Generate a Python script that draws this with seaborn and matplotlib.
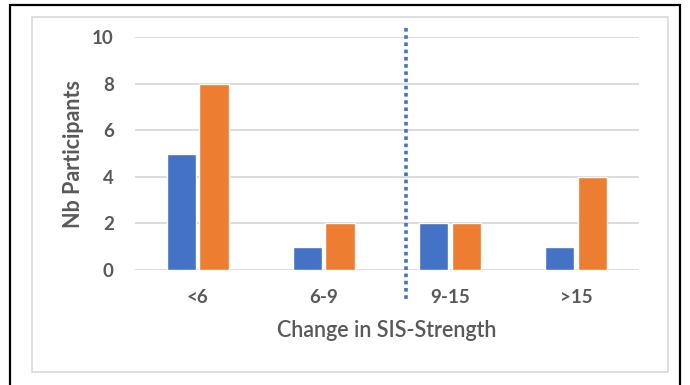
import matplotlib
matplotlib.use("Agg")
import matplotlib.pyplot as plt
from matplotlib.patches import Rectangle
import seaborn as sns
import pandas as pd

# Participant counts per SIS-Strength change band, two groups
categories = ["<6", "6-9", "9-15", ">15"]
group_a = [5, 1, 2, 1]
group_b = [8, 2, 2, 4]
group_names = ["Group A", "Group B"]
y_ticks = [0, 2, 4, 6, 8, 10]
divider_x = 1.65

df = pd.DataFrame({
    "category": categories * 2,
    "count": group_a + group_b,
    "group": [group_names[0]] * len(categories) + [group_names[1]] * len(categories),
})

sns.set_theme(style="white")
plt.rcParams["font.family"] = ["Lato", "DejaVu Sans"]

fig = plt.figure(figsize=(6.9, 3.85), dpi=100)
W, H = 690, 385

# outer black frame and inner light chart-area frame
fig.add_artist(Rectangle((10 / W, -0.1), 670 / W, 1 - 5 / H + 0.1,
                         transform=fig.transFigure, fill=False,
                         edgecolor="black", linewidth=1.6))
fig.add_artist(Rectangle((32 / W, 1 - 372 / H), 636 / W, 355 / H,
                         transform=fig.transFigure, fill=False,
                         edgecolor="#D9D9D9", linewidth=1.2))

ax = fig.add_axes([134.5 / W, 1 - 270 / H, 504.5 / W, 233 / H])
sns.barplot(data=df, x="category", y="count", hue="group", order=categories,
            hue_order=group_names, palette=["#4472C4", "#ED7D31"],
            width=0.52, gap=0.11, ax=ax, legend=False, saturation=1)

ax.set_ylim(0, 10)
ax.set_xlim(-0.5, len(categories) - 0.5)
ax.set_yticks(y_ticks)
ax.yaxis.grid(True, color="#D9D9D9", linewidth=1.3)
ax.set_axisbelow(True)
for s in ax.spines.values():
    s.set_visible(False)
ax.tick_params(axis="both", length=0, labelsize=13.5, labelcolor="#595959")
ax.tick_params(axis="x", pad=14)
ax.tick_params(axis="y", pad=15)
for lbl in ax.get_xticklabels() + ax.get_yticklabels():
    lbl.set_fontweight("bold")

ax.set_xlabel("Change in SIS-Strength", fontsize=15.5, color="#595959",
              fontweight="semibold", labelpad=10)
ax.set_ylabel("Nb Participants", fontsize=15.5, color="#595959",
              fontweight="bold", labelpad=6)

# dotted divider between the lower and higher change bands
ax.plot([divider_x, divider_x], [1.04, -0.13], transform=ax.get_xaxis_transform(),
        color="#4472C4", linewidth=2.6, linestyle=(0, (1, 1)), clip_on=False)

fig.savefig("out.png", dpi=100)
